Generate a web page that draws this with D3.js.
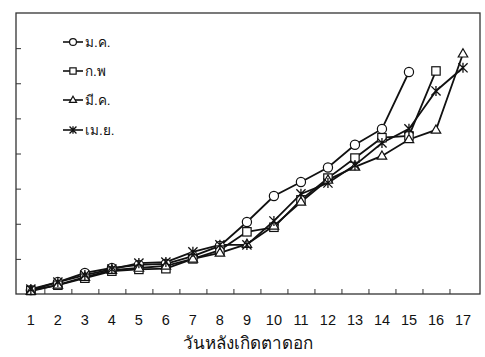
<!DOCTYPE html>
<html><head><meta charset="utf-8">
<script src="https://cdn.jsdelivr.net/npm/d3@7"></script>
<style>body{margin:0;background:#fff}svg{display:block}</style>
</head><body>
<script>
const days = [1,2,3,4,5,6,7,8,9,10,11,12,13,14,15,16,17];
const seriesNames = ["ม.ค.","ก.พ","มี.ค.","เม.ย."];
const jan = [0.11,0.34,0.6,0.74,0.83,0.86,1.08,1.37,2.05,2.79,3.19,3.6,4.25,4.7,6.32];
const feb = [0.1,0.25,0.45,0.65,0.7,0.72,1.0,1.25,1.77,1.9,2.68,3.3,3.87,4.45,4.5,6.35];
const mar = [0.08,0.26,0.48,0.68,0.74,0.8,1.0,1.17,1.42,1.94,2.62,3.25,3.62,3.93,4.4,4.67,6.84];
const apr = [0.14,0.34,0.54,0.71,0.88,0.91,1.2,1.4,1.4,2.08,2.85,3.16,3.67,4.3,4.7,5.78,6.44];
const yTicks = [1,2,3,4,5,6,7];
const xTitle = "วันหลังเกิดตาดอก";

const W=485,H=357;
const m={l:16,t:13,r:5,b:63};
const svg=d3.select("body").append("svg").attr("width",W).attr("height",H);
const x=d3.scaleLinear().domain([0.45,17.63]).range([m.l,W-m.r]);
const y=d3.scaleLinear().domain([0,8]).range([H-m.b,m.t]);
const font="'Liberation Sans', Arial, 'Noto Sans', sans-serif";

svg.append("rect").attr("x",m.l).attr("y",m.t).attr("width",W-m.r-m.l).attr("height",H-m.b-m.t)
  .attr("fill","none").attr("stroke","#333").attr("stroke-width",1.3);

const xb=d3.axisBottom(x).tickValues(d3.range(1.5,17,1)).tickSize(-5).tickFormat("");
svg.append("g").attr("transform",`translate(0,${H-m.b})`).call(xb)
  .call(g=>g.select(".domain").remove()).selectAll("line").attr("stroke","#333");
const yl=d3.axisLeft(y).tickValues(yTicks).tickSize(-5).tickFormat("");
svg.append("g").attr("transform",`translate(${m.l},0)`).call(yl)
  .call(g=>g.select(".domain").remove()).selectAll("line").attr("stroke","#333");

svg.append("g").selectAll("text").data(days).join("text")
  .attr("x",d=>x(d)).attr("y",H-m.b+31).attr("text-anchor","middle")
  .attr("font-family",font).attr("font-size",14.5).attr("fill","#111").text(d=>d);
svg.append("text").attr("x",248).attr("y",349).attr("text-anchor","middle")
  .attr("font-family",font).attr("font-size",17).attr("fill","#111").text(xTitle);

const data=[jan,feb,mar,apr];
const shapes=["circle","square","triangle","star"];
function marker(g,shape,cx,cy,s){
  if(shape==="circle") g.append("circle").attr("cx",cx).attr("cy",cy).attr("r",4.6*s).attr("fill","#fff").attr("stroke","#111").attr("stroke-width",1.2);
  else if(shape==="square") g.append("rect").attr("x",cx-4.2*s).attr("y",cy-4.2*s).attr("width",8.4*s).attr("height",8.4*s).attr("fill","#fff").attr("stroke","#111").attr("stroke-width",1.2);
  else if(shape==="triangle"){const r=5*s;g.append("path").attr("d",`M${cx},${cy-r}L${cx+r*0.95},${cy+r*0.65}L${cx-r*0.95},${cy+r*0.65}Z`).attr("fill","#fff").attr("stroke","#111").attr("stroke-width",1.2);}
  else {const r=4.6*s;g.append("path").attr("d",`M${cx-r},${cy-r}L${cx+r},${cy+r}M${cx+r},${cy-r}L${cx-r},${cy+r}M${cx},${cy-r*1.1}L${cx},${cy+r*1.1}`).attr("fill","none").attr("stroke","#111").attr("stroke-width",1.3);}
}
const line=d3.line().x((d,i)=>x(i+1)).y(d=>y(d));
data.forEach(s=>{
  svg.append("path").datum(s).attr("d",line).attr("fill","none").attr("stroke","#111").attr("stroke-width",1.8);
});
data.forEach((s,k)=>{
  const g=svg.append("g");
  s.forEach((v,i)=>marker(g,shapes[k],x(i+1),y(v),1));
});

const ly=[42,71,100,130];
seriesNames.forEach((n,k)=>{
  const g=svg.append("g");
  g.append("line").attr("x1",63).attr("x2",83).attr("y1",ly[k]).attr("y2",ly[k]).attr("stroke","#111").attr("stroke-width",1.6);
  marker(g,shapes[k],73,ly[k],0.75);
  g.append("text").attr("x",85).attr("y",ly[k]+5).attr("font-family",font).attr("font-size",13.5).attr("fill","#111").text(n);
});
</script>
</body></html>
